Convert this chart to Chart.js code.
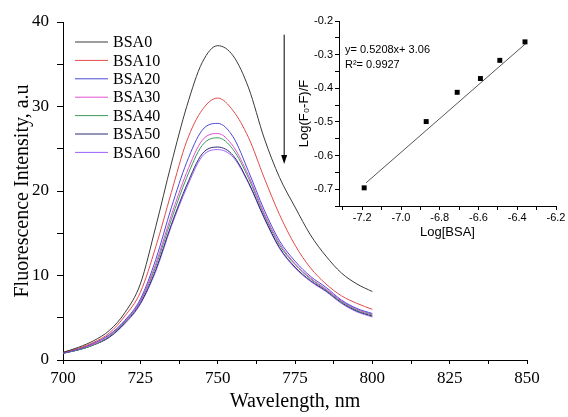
<!DOCTYPE html>
<html>
<head>
<meta charset="utf-8">
<script src="https://cdn.jsdelivr.net/npm/chart.js@4.4.0/dist/chart.umd.min.js"></script>
<style>
  html, body { margin: 0; padding: 0; background: #fff; }
  #wrap { position: relative; width: 568px; height: 417px; }
  #main { position: absolute; left: 0; top: 0; }
  #inset { position: absolute; left: 290px; top: 0; }
</style>
</head>
<body>
<div id="wrap">
  <canvas id="main" width="568" height="417"></canvas>
  <canvas id="inset" width="278" height="245"></canvas>
</div>
<script>
// Emission spectra
const wavelengths = [700, 705, 710, 715, 720, 725, 730, 735, 740, 745, 750, 755, 760, 765, 770, 775, 780, 785, 790, 795, 800];
const seriesNames = ['BSA0', 'BSA10', 'BSA20', 'BSA30', 'BSA40', 'BSA50', 'BSA60'];
const seriesColors = ['#3a3a3a', '#e34a4a', '#4a4ad8', '#e050d0', '#3c9a5a', '#2a2a70', '#a060ff'];
const bsa0 = [0.9, 1.5, 2.3, 3.5, 5.6, 9.0, 15.8, 23.2, 30.0, 35.2, 37.2, 36.0, 32.2, 26.3, 21.6, 18.1, 14.8, 12.3, 10.3, 9.0, 8.1];
const bsa10 = [0.9, 1.4, 2.1, 3.2, 5.2, 8.0, 13.4, 19.8, 25.9, 29.6, 31.0, 29.5, 26.3, 21.6, 17.2, 13.6, 10.9, 9.0, 7.6, 6.7, 6.0];
const bsa20 = [0.8, 1.3, 2.0, 3.0, 4.7, 7.2, 11.9, 18.0, 23.4, 27.2, 28.0, 26.4, 22.3, 17.8, 14.1, 11.7, 9.9, 8.6, 7.1, 6.1, 5.5];
const bsa30 = [0.8, 1.3, 1.9, 2.9, 4.6, 7.0, 11.4, 17.1, 22.2, 26.0, 26.8, 25.3, 21.8, 17.4, 13.8, 11.4, 9.7, 8.4, 7.0, 6.0, 5.4];
const bsa40 = [0.8, 1.2, 1.8, 2.8, 4.5, 6.9, 11.1, 16.6, 21.6, 25.4, 26.3, 24.9, 21.5, 17.2, 13.6, 11.3, 9.6, 8.3, 6.9, 5.9, 5.3];
const bsa50 = [0.8, 1.2, 1.8, 2.7, 4.4, 6.7, 10.7, 16.0, 20.7, 24.4, 25.2, 24.2, 21.0, 16.9, 13.3, 11.0, 9.4, 8.2, 6.8, 5.8, 5.2];
const bsa60 = [0.8, 1.2, 1.8, 2.7, 4.3, 6.6, 10.5, 15.8, 20.4, 24.1, 24.9, 24.0, 20.9, 16.8, 13.2, 10.9, 9.3, 8.1, 6.7, 5.7, 5.1];
const allSeries = [bsa0, bsa10, bsa20, bsa30, bsa40, bsa50, bsa60];

// Inset: double log plot
const logBSA = [-7.19, -6.87, -6.71, -6.59, -6.49, -6.36];
const logRatio = [-0.696, -0.499, -0.412, -0.371, -0.317, -0.262];
const fitX = [-7.18, -6.35];
const fitY = [-0.681, -0.264];
const fitText = ['y= 0.5208x+ 3.06', 'R\u00b2= 0.9927'];

// arrow marking decreasing intensity (data units)
const arrowNm = 771.5;
const arrowFrom = 38.5;
const arrowTo = 23.2;

const serif = '"Liberation Serif", "Times New Roman", serif';
const sans = '"Liberation Sans", Arial, sans-serif';

const legendLines = {
  id: 'legendLines',
  afterDatasetsDraw(chart) {
    const ctx = chart.ctx;
    const a = chart.chartArea;
    ctx.save();
    ctx.font = '16px ' + serif;
    ctx.textBaseline = 'middle';
    chart.data.datasets.forEach((ds, i) => {
      const y = a.top + 20 + i * 18.4;
      ctx.strokeStyle = ds.borderColor;
      ctx.lineWidth = 1;
      ctx.beginPath();
      ctx.moveTo(a.left + 12, y);
      ctx.lineTo(a.left + 45, y);
      ctx.stroke();
      ctx.fillStyle = '#000';
      ctx.fillText(ds.label, a.left + 50, y + 1);
    });
    ctx.restore();
  }
};

const arrowPlugin = {
  id: 'arrowPlugin',
  afterDatasetsDraw(chart) {
    const ctx = chart.ctx;
    const x = chart.scales.x.getPixelForValue(arrowNm);
    const y1 = chart.scales.y.getPixelForValue(arrowFrom);
    const y2 = chart.scales.y.getPixelForValue(arrowTo);
    ctx.save();
    ctx.strokeStyle = '#000';
    ctx.fillStyle = '#000';
    ctx.lineWidth = 1;
    ctx.beginPath();
    ctx.moveTo(x, y1);
    ctx.lineTo(x, y2 - 8);
    ctx.stroke();
    ctx.beginPath();
    ctx.moveTo(x - 3, y2 - 9);
    ctx.lineTo(x + 3, y2 - 9);
    ctx.lineTo(x, y2);
    ctx.closePath();
    ctx.fill();
    ctx.restore();
  }
};

const mainChart = new Chart(document.getElementById('main'), {
  type: 'line',
  data: {
    datasets: allSeries.map((vals, i) => ({
      label: seriesNames[i],
      data: wavelengths.map((w, j) => ({ x: w, y: vals[j] })),
      borderColor: seriesColors[i],
      borderWidth: 1,
      pointRadius: 0,
      cubicInterpolationMode: 'monotone',
      fill: false,
    })),
  },
  options: {
    responsive: false,
    animation: false,
    devicePixelRatio: 1,
    layout: { padding: { left: 0, top: 22, right: 41, bottom: 0 } },
    plugins: { legend: { display: false }, tooltip: { enabled: false } },
    scales: {
      x: {
        type: 'linear',
        min: 700,
        max: 850,
        afterFit(s) { s.height = 57; },
        border: { display: true, color: '#000', width: 1 },
        grid: { drawOnChartArea: false, drawTicks: true, tickLength: 4, tickColor: '#000' },
        ticks: {
          stepSize: 12.5,
          autoSkip: false,
          maxRotation: 0,
          padding: 4,
          color: '#000',
          font: { family: serif, size: 17 },
          callback: (v) => (v % 25 === 0 ? v : ''),
        },
        title: {
          display: true,
          text: 'Wavelength, nm',
          color: '#000',
          font: { family: serif, size: 20 },
          padding: { top: 0, bottom: 3 },
        },
      },
      y: {
        min: 0,
        max: 40,
        afterFit(s) { s.width = 63; },
        border: { display: true, color: '#000', width: 1 },
        grid: { drawOnChartArea: false, drawTicks: true, tickLength: 6, tickColor: '#000' },
        ticks: {
          stepSize: 5,
          autoSkip: false,
          padding: 8,
          color: '#000',
          font: { family: serif, size: 17 },
          callback: (v) => (v % 10 === 0 ? v : ''),
        },
        title: {
          display: true,
          text: 'Fluorescence Intensity, a.u',
          color: '#000',
          font: { family: serif, size: 20 },
          padding: { top: 11, bottom: 0 },
        },
      },
    },
  },
  plugins: [legendLines, arrowPlugin],
});

const fitLabel = {
  id: 'fitLabel',
  afterDatasetsDraw(chart) {
    const ctx = chart.ctx;
    const a = chart.chartArea;
    ctx.save();
    ctx.font = '11px ' + sans;
    ctx.fillStyle = '#000';
    ctx.textBaseline = 'middle';
    fitText.forEach((t, i) => ctx.fillText(t, a.left + 6, a.top + 29 + i * 15));
    ctx.restore();
  }
};

const insetChart = new Chart(document.getElementById('inset'), {
  type: 'scatter',
  data: {
    datasets: [
      {
        data: logBSA.map((x, i) => ({ x: x, y: logRatio[i] })),
        pointStyle: 'rect',
        pointRadius: 3.5,
        backgroundColor: '#000',
        borderColor: '#000',
        borderWidth: 0,
      },
      {
        type: 'line',
        data: fitX.map((x, i) => ({ x: x, y: fitY[i] })),
        borderColor: '#555',
        borderWidth: 1,
        pointRadius: 0,
        fill: false,
      },
    ],
  },
  options: {
    responsive: false,
    animation: false,
    devicePixelRatio: 1,
    layout: { padding: { left: 0, top: 21, right: 12, bottom: 0 } },
    plugins: { legend: { display: false }, tooltip: { enabled: false } },
    scales: {
      x: {
        type: 'linear',
        min: -7.32,
        max: -6.2,
        afterFit(s) { s.height = 39; },
        border: { display: true, color: '#000', width: 1 },
        grid: { drawOnChartArea: false, drawTicks: true, tickLength: 4, tickColor: '#000' },
        ticks: {
          stepSize: 0.1,
          includeBounds: false,
          autoSkip: false,
          maxRotation: 0,
          padding: 1,
          color: '#000',
          font: { family: sans, size: 11 },
          callback: (v) => (Math.round(v * 10) % 2 === 0 ? v.toFixed(1) : ''),
        },
        title: {
          display: true,
          text: 'Log[BSA]',
          color: '#000',
          font: { family: sans, size: 13 },
          padding: { top: 0, bottom: 5 },
        },
      },
      y: {
        min: -0.75,
        max: -0.2,
        afterFit(s) { s.width = 49; },
        border: { display: true, color: '#000', width: 1 },
        grid: { drawOnChartArea: false, drawTicks: true, tickLength: 4, tickColor: '#000' },
        ticks: {
          stepSize: 0.05,
          includeBounds: false,
          autoSkip: false,
          padding: 2,
          color: '#000',
          font: { family: sans, size: 11 },
          callback: (v) => (Math.round(v * 100) % 10 === 0 ? v.toFixed(1) : ''),
        },
        title: {
          display: true,
          text: 'Log(F\u2080-F)/F',
          color: '#000',
          font: { family: sans, size: 13 },
          padding: { top: 7, bottom: 0 },
        },
      },
    },
  },
  plugins: [fitLabel],
});
</script>
</body>
</html>
